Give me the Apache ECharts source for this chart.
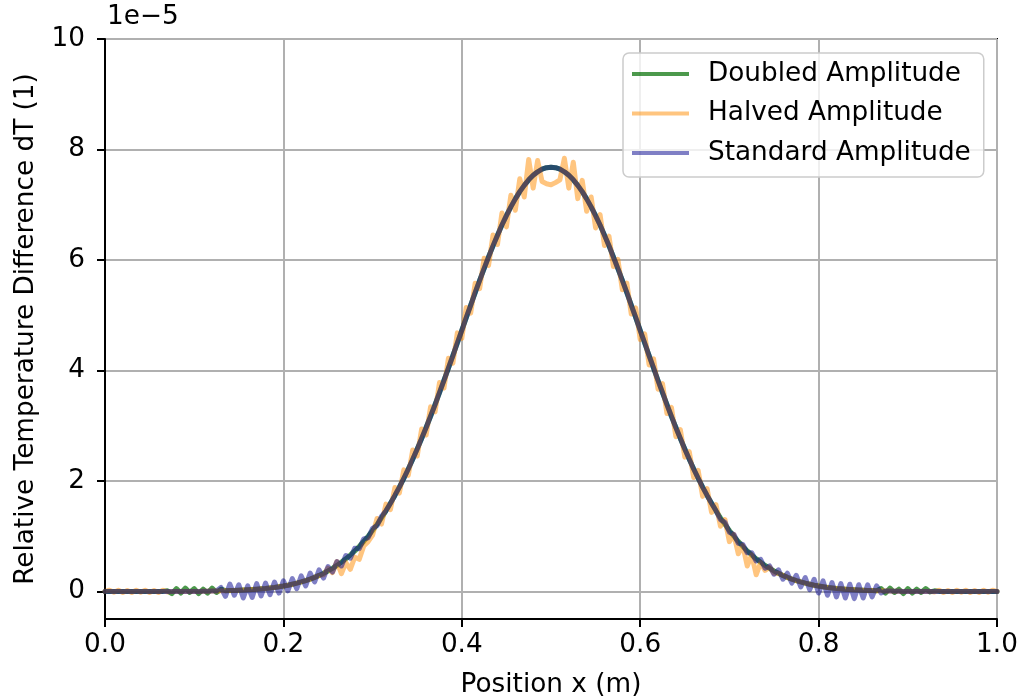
<!DOCTYPE html>
<html>
<head>
<meta charset="utf-8">
<script src="https://cdn.jsdelivr.net/npm/echarts@6/dist/echarts.min.js"></script>
<style>html,body{margin:0;padding:0;background:#fff;}#chart{width:1022px;height:699px;}</style>
</head>
<body>
<div id="chart"></div>
<script>
// Sample positions (m)
const positions = [
0,0.005,0.01,0.015,0.02,0.025,0.03,0.035,0.04,0.045,0.05,0.055,0.06,0.065,0.07,0.075,0.08,0.085,0.09,0.095,
0.1,0.105,0.11,0.115,0.12,0.125,0.13,0.135,0.14,0.145,0.15,0.155,0.16,0.165,0.17,0.175,0.18,0.185,0.19,0.195,
0.2,0.205,0.21,0.215,0.22,0.225,0.23,0.235,0.24,0.245,0.25,0.255,0.26,0.265,0.27,0.275,0.28,0.285,0.29,0.295,
0.3,0.305,0.31,0.315,0.32,0.325,0.33,0.335,0.34,0.345,0.35,0.355,0.36,0.365,0.37,0.375,0.38,0.385,0.39,0.395,
0.4,0.405,0.41,0.415,0.42,0.425,0.43,0.435,0.44,0.445,0.45,0.455,0.46,0.465,0.47,0.475,0.48,0.485,0.49,0.495,
0.5,0.505,0.51,0.515,0.52,0.525,0.53,0.535,0.54,0.545,0.55,0.555,0.56,0.565,0.57,0.575,0.58,0.585,0.59,0.595,
0.6,0.605,0.61,0.615,0.62,0.625,0.63,0.635,0.64,0.645,0.65,0.655,0.66,0.665,0.67,0.675,0.68,0.685,0.69,0.695,
0.7,0.705,0.71,0.715,0.72,0.725,0.73,0.735,0.74,0.745,0.75,0.755,0.76,0.765,0.77,0.775,0.78,0.785,0.79,0.795,
0.8,0.805,0.81,0.815,0.82,0.825,0.83,0.835,0.84,0.845,0.85,0.855,0.86,0.865,0.87,0.875,0.88,0.885,0.89,0.895,
0.9,0.905,0.91,0.915,0.92,0.925,0.93,0.935,0.94,0.945,0.95,0.955,0.96,0.965,0.97,0.975,0.98,0.985,0.99,0.995,
1
];

// Relative temperature difference, in units of 1e-5
const doubledAmplitude = [
0,0,0,0,0,0,0,0,0,0,0,0,0,0,
0.01,-0.04,0.05,-0.03,0.06,-0.02,0.05,-0.04,0.04,-0.03,0.06,-0.02,0.04,
0.012,0.014,0.017,0.020,0.024,0.028,0.033,0.039,0.046,0.053,0.062,0.072,0.084,0.097,0.112,0.130,0.149,0.171,0.196,0.223,0.254,0.289,0.327,0.370,0.417,0.469,0.526,0.589,0.658,0.733,0.814,0.903,0.998,1.102,1.213,1.332,1.458,1.594,1.737,1.888,2.048,2.216,2.392,2.577,2.768,2.966,3.170,3.381,3.597,3.818,4.042,4.269,4.497,4.726,4.956,5.183,5.408,5.629,5.844,6.054,6.256,6.448,6.632,6.802,6.961,7.106,7.237,7.351,7.450,7.532,7.596,7.643,7.671,7.68,
7.671,7.643,7.596,7.532,7.450,7.351,7.237,7.106,6.961,6.802,6.632,6.448,6.256,6.054,5.844,5.629,5.408,5.183,4.956,4.726,4.497,4.269,4.042,3.818,3.597,3.381,3.170,2.966,2.768,2.577,2.392,2.216,2.048,1.888,1.737,1.594,1.458,1.332,1.213,1.102,0.998,0.903,0.814,0.733,0.658,0.589,0.526,0.469,0.417,0.370,0.327,0.289,0.254,0.223,0.196,0.171,0.149,0.130,0.112,0.097,0.084,0.072,0.062,0.053,0.046,0.039,0.033,0.028,0.024,0.020,0.017,0.014,0.012,
0.05,-0.03,0.06,-0.02,0.04,-0.04,0.05,-0.03,0.04,-0.02,0.05,-0.01,0.01,
0,0,0,0,0,0,0,0,0,0,0,0,0,0
];

const halvedAmplitude = [
0,0.02,-0.015,0.02,-0.02,0.015,-0.02,0.02,-0.015,0.02,-0.02,0.015,-0.02,0.02,-0.01,0,
0,0,0,0,0,0,
0.003,0.004,0.006,0.008,0.010,0.012,0.014,0.017,0.020,0.024,0.028,0.033,0.039,0.046,0.053,0.062,0.072,0.084,0.097,0.112,0.130,0.149,0.171,0.196,0.223,0.254,0.289,
0.30,0.42,0.34,0.54,0.32,0.52,0.40,0.62,0.58,0.82,
0.90,1.02,1.32,1.22,1.58,1.48,1.88,1.78,2.20,2.10,
2.56,2.45,2.94,2.83,3.34,3.25,3.78,3.68,4.22,4.13,
4.68,4.58,5.14,5.04,5.58,5.48,6.03,5.90,6.45,6.28,
6.85,6.60,7.17,6.90,7.47,7.14,7.82,7.30,7.80,7.42,
7.38,7.36,7.40,7.45,7.84,7.30,7.77,7.11,7.44,6.88,
7.14,6.58,6.82,6.26,6.43,5.88,6.01,5.46,5.58,5.02,
5.13,4.56,4.66,4.10,4.21,3.66,3.76,3.22,3.33,2.80,
2.93,2.43,2.53,2.06,2.19,1.72,1.86,1.43,1.57,1.18,
1.30,0.90,1.03,0.68,0.83,0.46,0.66,0.30,0.52,0.38,
0.44,0.33,0.33,
0.289,0.254,0.223,0.196,0.171,0.149,0.130,0.112,0.097,0.084,0.072,0.062,0.053,0.046,0.039,0.033,0.028,0.024,0.020,0.017,0.014,0.012,0.010,0.008,0.006,0.004,0.003,
0,0,0,0,0,0,
0,-0.01,0.02,-0.02,0.015,-0.02,0.02,-0.015,0.02,-0.02,0.015,-0.02,0.02,-0.015,0.02,0
];

const standardAmplitude = [
0,0,0,0,0,0,0,0,0,0,0,0,0,0,0,0,0,0,0,0,0,0,
0.003,0.004,0.006,0.008,
0.07,-0.09,0.13,-0.07,0.12,-0.12,0.10,-0.11,0.14,-0.08,
0.15,-0.06,0.17,-0.03,0.19,0.01,0.23,0.05,0.28,0.10,
0.33,0.17,0.39,0.24,0.45,0.35,0.54,0.46,0.65,0.60,
0.78,0.77,0.95,0.97,1.14,1.19,1.36,
1.458,1.594,1.737,1.888,2.048,2.216,2.392,2.577,2.768,2.966,3.170,3.381,3.597,3.818,4.042,4.269,4.497,4.726,4.956,5.183,5.408,5.629,5.844,6.054,6.256,6.448,6.632,6.802,6.961,7.106,7.237,7.351,7.450,7.532,7.596,7.643,7.671,7.68,
7.671,7.643,7.596,7.532,7.450,7.351,7.237,7.106,6.961,6.802,6.632,6.448,6.256,6.054,5.844,5.629,5.408,5.183,4.956,4.726,4.497,4.269,4.042,3.818,3.597,3.381,3.170,2.966,2.768,2.577,2.392,2.216,2.048,1.888,1.737,1.594,1.458,
1.30,1.25,1.07,1.03,0.87,0.85,0.70,0.70,0.55,0.58,
0.42,0.46,0.31,0.39,0.22,0.33,0.15,0.29,0.08,0.25,
0.03,0.22,-0.03,0.19,-0.07,0.16,-0.10,0.14,-0.12,0.13,
-0.13,0.12,-0.12,0.12,-0.10,0.10,-0.03,
0.008,0.006,0.004,0.003,
0,0,0,0,0,0,0,0,0,0,0,0,0,0,0,0,0,0,0,0,0,0
];

const seriesNames = ['Doubled Amplitude', 'Halved Amplitude', 'Standard Amplitude'];
const xTicks = [0, 0.2, 0.4, 0.6, 0.8, 1.0];
const yTicks = [0, 2, 4, 6, 8, 10];
const yScaleLabel = '1e\u22125';
const yTitle = 'Relative Temperature Difference dT (1)';
const xTitle = 'Position x (m)';

const colors = ['rgba(0,110,0,0.7)', 'rgba(255,140,0,0.5)', 'rgba(0,0,139,0.5)'];
const FONT = 'DejaVu Sans';
const FS = 26.3;

function pairs(ys) { return positions.map((x, i) => [x, ys[i]]); }
const allY = [doubledAmplitude, halvedAmplitude, standardAmplitude];

const chart = echarts.init(document.getElementById('chart'), null, {renderer: 'canvas'});
chart.setOption({
  animation: false,
  backgroundColor: '#ffffff',
  textStyle: {fontFamily: FONT},
  grid: {left: 105, right: 25, top: 39, bottom: 80, show: true, borderColor: '#000', borderWidth: 2,
         backgroundColor: 'transparent', containLabel: false, outerBoundsMode: 'none'},
  xAxis: {
    type: 'value', min: 0, max: 1, interval: 0.2,
    axisLine: {show: true, onZero: false, lineStyle: {color: '#000', width: 2}},
    axisTick: {show: true, length: 8, customValues: xTicks, lineStyle: {color: '#000', width: 2}},
    axisLabel: {customValues: xTicks, formatter: v => Number(v).toFixed(1), fontSize: FS, color: '#000', margin: 13, fontFamily: FONT},
    splitLine: {show: true, lineStyle: {color: '#b0b0b0', width: 2}},
    name: xTitle, nameLocation: 'middle', nameGap: 53,
    nameTextStyle: {fontSize: FS, color: '#000', fontFamily: FONT}
  },
  yAxis: {
    type: 'value', min: -0.5, max: 10,
    axisLine: {show: true, onZero: false, lineStyle: {color: '#000', width: 2}},
    axisTick: {show: true, length: 8, customValues: yTicks, lineStyle: {color: '#000', width: 2}},
    axisLabel: {customValues: yTicks, formatter: v => String(v), fontSize: FS, color: '#000', margin: 20, fontFamily: FONT},
    splitLine: {show: true, lineStyle: {color: '#b0b0b0', width: 2}}
  },
  legend: {
    orient: 'vertical', left: 623, top: 53,
    padding: [8, 13, 11, 9],
    backgroundColor: 'rgba(255,255,255,0.8)', borderColor: '#cccccc', borderWidth: 1.5, borderRadius: 6,
    itemWidth: 57, itemHeight: 4, itemGap: 13.5, icon: 'rect',
    textStyle: {fontSize: FS, color: '#000', fontFamily: FONT, padding: [0, 0, 0, 14]},
    data: seriesNames
  },
  graphic: [{
    type: 'text', left: 107, top: 4,
    style: {text: yScaleLabel, font: FS + 'px "DejaVu Sans"', fill: '#000'}
  }, {
    type: 'text', x: 26, y: 329, rotation: Math.PI / 2,
    style: {text: yTitle, font: FS + 'px "DejaVu Sans"', fill: '#000', align: 'center', verticalAlign: 'middle'}
  }],
  series: seriesNames.map((name, k) => ({
    name: name, type: 'line', data: pairs(allY[k]),
    showSymbol: false, symbol: 'none', smooth: false,
    color: colors[k],
    lineStyle: {color: colors[k], width: 5, cap: 'round', join: 'round'},
    z: 2 + k
  }))
});
</script>
</body>
</html>
